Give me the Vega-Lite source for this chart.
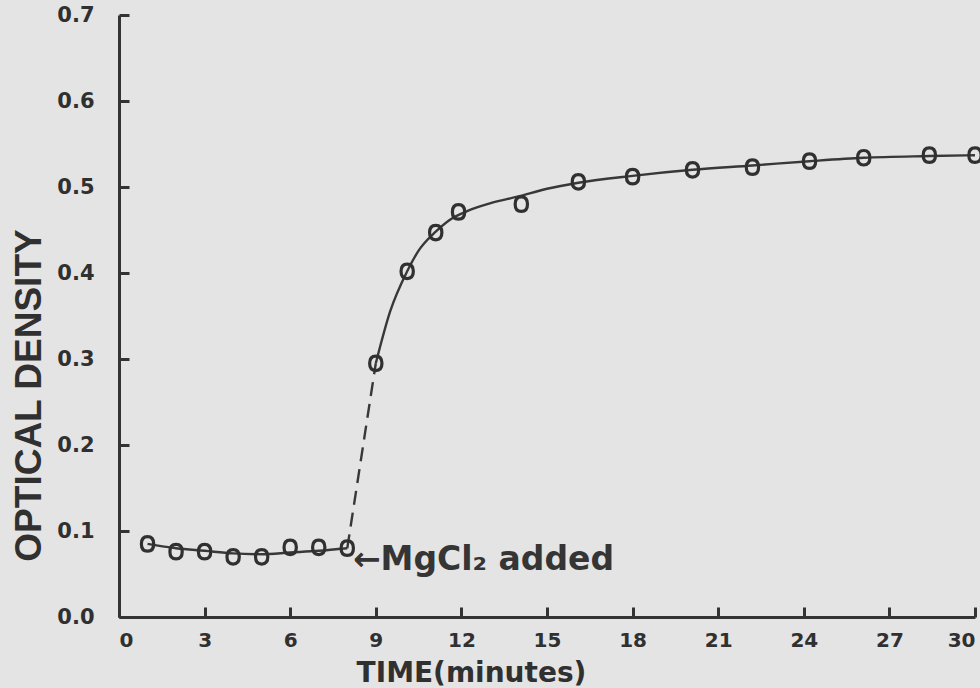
{
  "$schema": "https://vega.github.io/schema/vega-lite/v6.json",
  "width": 856,
  "height": 602,
  "autosize": "none",
  "padding": {"left": 119, "top": 15, "right": 5, "bottom": 71},
  "background": "#e4e4e4",
  "config": {
    "view": {"stroke": null},
    "axis": {
      "domainColor": "#333333",
      "domainWidth": 3,
      "tickColor": "#333333",
      "tickWidth": 3,
      "tickSize": -10,
      "grid": false,
      "labelColor": "#303030",
      "labelFont": "DejaVu Sans",
      "labelFontWeight": "bold",
      "labelFontSize": 21,
      "titleColor": "#303030",
      "titleFont": "Liberation Sans",
      "titleFontWeight": "bold"
    }
  },
  "datasets": {
    "obs": [
      {"t": 1, "od": 0.085}, {"t": 2, "od": 0.076}, {"t": 3, "od": 0.076},
      {"t": 4, "od": 0.070}, {"t": 5, "od": 0.070}, {"t": 6, "od": 0.081},
      {"t": 7, "od": 0.081}, {"t": 8, "od": 0.080}, {"t": 9, "od": 0.295},
      {"t": 10.1, "od": 0.402}, {"t": 11.1, "od": 0.447}, {"t": 11.9, "od": 0.471},
      {"t": 14.1, "od": 0.480}, {"t": 16.1, "od": 0.506}, {"t": 18, "od": 0.512},
      {"t": 20.1, "od": 0.520}, {"t": 22.2, "od": 0.523}, {"t": 24.2, "od": 0.530},
      {"t": 26.1, "od": 0.534}, {"t": 28.4, "od": 0.537}, {"t": 30, "od": 0.537}
    ],
    "curve": [
      {"seg": "a", "t": 1, "od": 0.085}, {"seg": "a", "t": 2, "od": 0.080},
      {"seg": "a", "t": 3, "od": 0.077}, {"seg": "a", "t": 4, "od": 0.074},
      {"seg": "a", "t": 5, "od": 0.073}, {"seg": "a", "t": 6, "od": 0.075},
      {"seg": "a", "t": 7, "od": 0.077}, {"seg": "a", "t": 8, "od": 0.080},
      {"seg": "b", "t": 8, "od": 0.080}, {"seg": "b", "t": 9, "od": 0.295},
      {"seg": "c", "t": 9, "od": 0.295}, {"seg": "c", "t": 9.5, "od": 0.355},
      {"seg": "c", "t": 10.1, "od": 0.402}, {"seg": "c", "t": 10.5, "od": 0.426},
      {"seg": "c", "t": 11.1, "od": 0.448}, {"seg": "c", "t": 11.6, "od": 0.462},
      {"seg": "c", "t": 12.2, "od": 0.472}, {"seg": "c", "t": 13, "od": 0.481},
      {"seg": "c", "t": 14, "od": 0.489}, {"seg": "c", "t": 15, "od": 0.498},
      {"seg": "c", "t": 16.1, "od": 0.505}, {"seg": "c", "t": 18, "od": 0.513},
      {"seg": "c", "t": 20.1, "od": 0.520}, {"seg": "c", "t": 22.2, "od": 0.525},
      {"seg": "c", "t": 24.2, "od": 0.530}, {"seg": "c", "t": 26.1, "od": 0.534},
      {"seg": "c", "t": 28.4, "od": 0.536}, {"seg": "c", "t": 30, "od": 0.537}
    ],
    "notes": [{"t": 8.2, "od": 0.066, "label": "←MgCl₂ added"}]
  },
  "layer": [
    {
      "data": {"name": "curve"},
      "transform": [{"filter": "datum.seg === 'a'"}],
      "mark": {"type": "line", "interpolate": "monotone", "color": "#383838", "strokeWidth": 2.4},
      "encoding": {
        "x": {"field": "t", "type": "quantitative", "scale": {"domain": [0, 30], "nice": false},
          "axis": {"values": [0, 3, 6, 9, 12, 15, 18, 21, 24, 27, 30], "labelPadding": 23, "labelFontSize": 20,
            "title": "TIME(minutes)", "titleFont": "DejaVu Sans", "titleFontSize": 28, "titleX": 352, "titleY": 64,
            "titleAlign": "center", "titleBaseline": "alphabetic"}},
        "y": {"field": "od", "type": "quantitative", "scale": {"domain": [0, 0.7], "nice": false},
          "axis": {"values": [0, 0.1, 0.2, 0.3, 0.4, 0.5, 0.6, 0.7], "format": ".1f", "labelPadding": 35,
            "title": "OPTICAL DENSITY", "titleFontSize": 37, "titleAngle": -90, "titleX": -90, "titleY": 380,
            "titleAlign": "center", "titleBaseline": "middle"}}
      }
    },
    {
      "data": {"name": "curve"},
      "transform": [{"filter": "datum.seg === 'b'"}],
      "mark": {"type": "line", "color": "#383838", "strokeWidth": 2.4, "strokeDash": [14, 8]},
      "encoding": {
        "x": {"field": "t", "type": "quantitative"},
        "y": {"field": "od", "type": "quantitative"}
      }
    },
    {
      "data": {"name": "curve"},
      "transform": [{"filter": "datum.seg === 'c'"}],
      "mark": {"type": "line", "interpolate": "monotone", "color": "#383838", "strokeWidth": 2.4},
      "encoding": {
        "x": {"field": "t", "type": "quantitative"},
        "y": {"field": "od", "type": "quantitative"}
      }
    },
    {
      "data": {"name": "obs"},
      "mark": {"type": "point", "filled": false, "color": "#303030", "strokeWidth": 3.2, "size": 210,
        "shape": "M0,-1 C0.62,-1 0.85,-0.55 0.85,0 C0.85,0.55 0.62,1 0,1 C-0.62,1 -0.85,0.55 -0.85,0 C-0.85,-0.55 -0.62,-1 0,-1 Z", "opacity": 1},
      "encoding": {
        "x": {"field": "t", "type": "quantitative"},
        "y": {"field": "od", "type": "quantitative"}
      }
    },
    {
      "data": {"name": "notes"},
      "mark": {"type": "text", "align": "left", "baseline": "middle", "font": "DejaVu Sans", "fontWeight": "bold", "fontSize": 33, "color": "#353535"},
      "encoding": {
        "x": {"field": "t", "type": "quantitative"},
        "y": {"field": "od", "type": "quantitative"},
        "text": {"field": "label"}
      }
    }
  ]
}
